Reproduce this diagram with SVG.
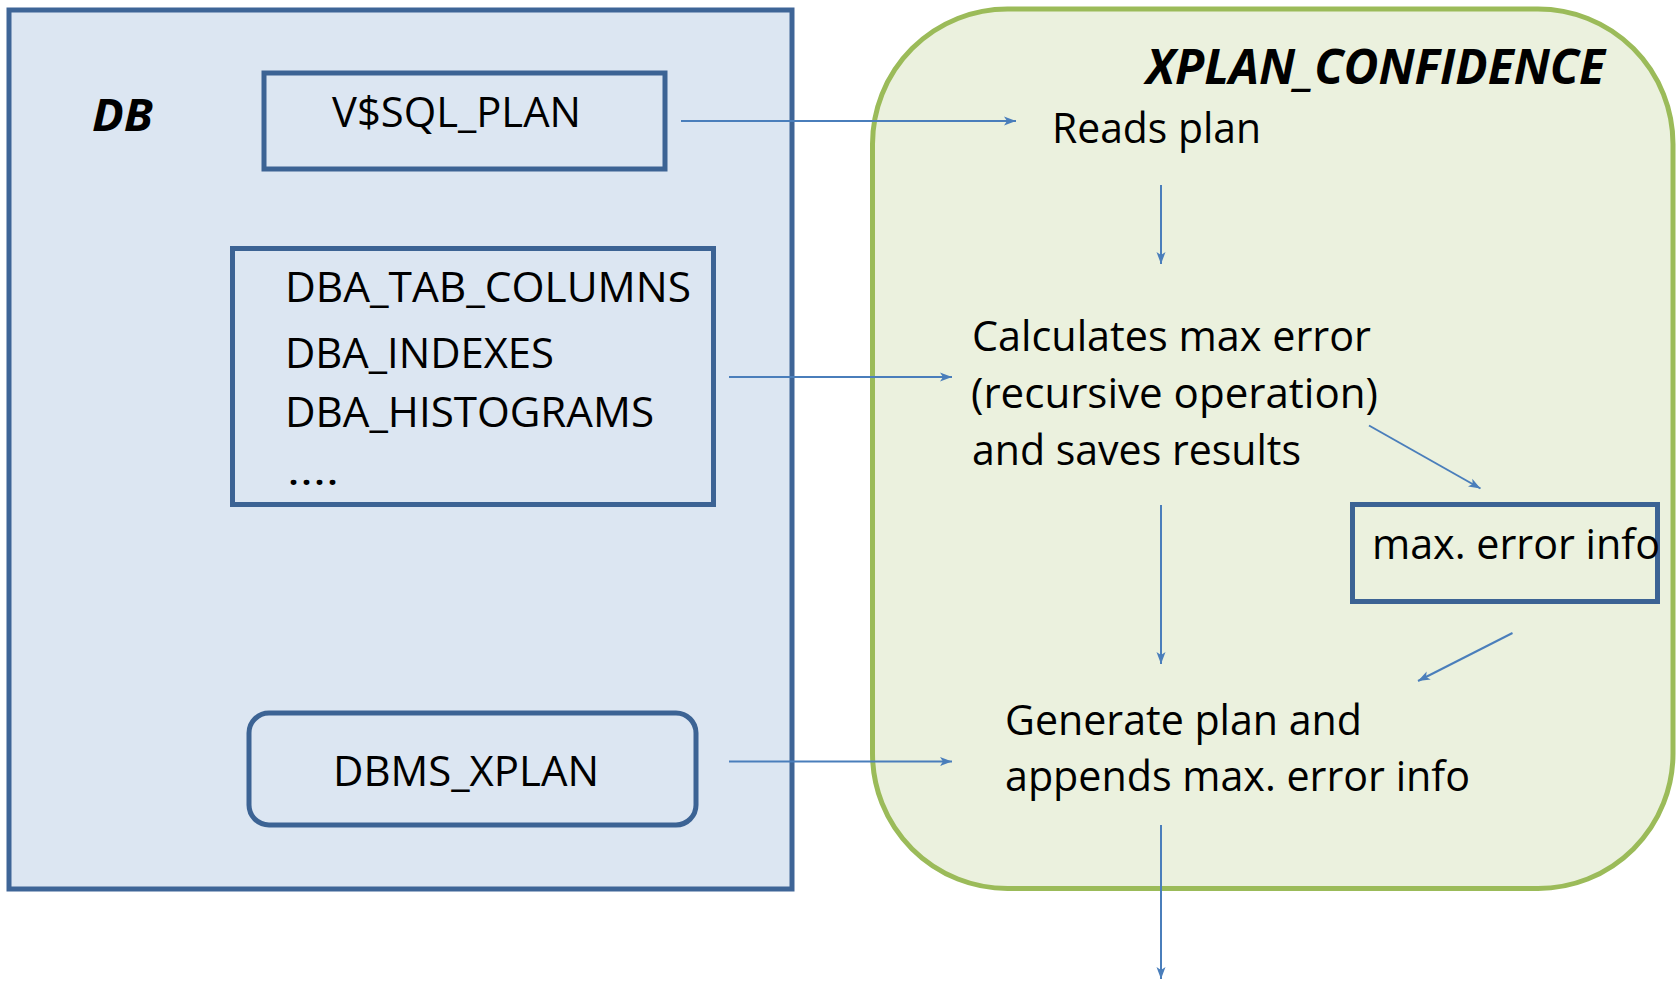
<svg xmlns="http://www.w3.org/2000/svg" width="1680" height="981" viewBox="0 0 1680 981">
  <style>
    .txt { font-family: "Open Sans", "Noto Sans", "Liberation Sans", sans-serif; font-size: 42px; fill: #000; }
    .title { font-family: "Open Sans", "Noto Sans", "Liberation Sans", sans-serif; font-weight: bold; font-style: italic; fill: #000; }
    .box { fill: none; stroke: #3C6394; stroke-width: 5; }
    .conn { stroke: #4A7EBB; stroke-width: 2; fill: none; marker-end: url(#arrow); }
  </style>
  <defs>
    <marker id="arrow" markerUnits="userSpaceOnUse" markerWidth="14" markerHeight="10" refX="12" refY="5" orient="auto">
      <path d="M0,0.5 L12,5 L0,9.5 L3,5 Z" fill="#4A7EBB"/>
    </marker>
  </defs>

  <rect width="1680" height="981" fill="#FFFFFF"/>

  <!-- Database container -->
  <g id="db">
    <rect x="9" y="10" width="783" height="879" fill="#DCE6F2" stroke="#3E6597" stroke-width="5"/>
    <text class="title" x="92" y="131" font-size="44" textLength="61" lengthAdjust="spacingAndGlyphs">DB</text>
  </g>

  <g id="vsql-plan">
    <rect class="box" x="264" y="73" width="401" height="96"/>
    <text class="txt" x="332" y="126.7" textLength="249" lengthAdjust="spacingAndGlyphs">V$SQL_PLAN</text>
  </g>

  <g id="dictionary-views">
    <rect class="box" x="232.5" y="248.5" width="481" height="256"/>
    <text class="txt" x="285" y="301.7" textLength="406" lengthAdjust="spacingAndGlyphs">DBA_TAB_COLUMNS</text>
    <text class="txt" x="285" y="368.3" textLength="269" lengthAdjust="spacingAndGlyphs">DBA_INDEXES</text>
    <text class="txt" x="285" y="426.7" textLength="369" lengthAdjust="spacingAndGlyphs">DBA_HISTOGRAMS</text>
    <text class="txt" x="287" y="485" textLength="52" lengthAdjust="spacingAndGlyphs">....</text>
  </g>

  <g id="dbms-xplan">
    <rect class="box" x="249" y="713" width="447" height="112" rx="20" ry="20"/>
    <text class="txt" x="333" y="785.5" textLength="266" lengthAdjust="spacingAndGlyphs">DBMS_XPLAN</text>
  </g>

  <!-- XPLAN_CONFIDENCE container -->
  <g id="xplan-confidence">
    <rect x="872.5" y="9" width="800.5" height="879.5" rx="135" ry="135" fill="#EBF1DE" stroke="#9BBB59" stroke-width="5"/>
    <text class="title" x="1146" y="83.5" font-size="47.5" textLength="459" lengthAdjust="spacingAndGlyphs">XPLAN_CONFIDENCE</text>
  </g>

  <g id="reads-plan">
    <text class="txt" x="1052" y="142.7" textLength="209" lengthAdjust="spacingAndGlyphs">Reads plan</text>
  </g>

  <g id="calculates">
    <text class="txt" x="972" y="351" textLength="399" lengthAdjust="spacingAndGlyphs">Calculates max error</text>
    <text class="txt" x="971" y="408" textLength="407" lengthAdjust="spacingAndGlyphs">(recursive operation)</text>
    <text class="txt" x="972" y="465" textLength="329" lengthAdjust="spacingAndGlyphs">and saves results</text>
  </g>

  <g id="max-error-info">
    <rect class="box" x="1352.5" y="504.5" width="305" height="97"/>
    <text class="txt" x="1372" y="558.5" textLength="288" lengthAdjust="spacingAndGlyphs">max. error info</text>
  </g>

  <g id="generate-plan">
    <text class="txt" x="1005" y="735" textLength="357" lengthAdjust="spacingAndGlyphs">Generate plan and</text>
    <text class="txt" x="1005" y="790.5" textLength="465" lengthAdjust="spacingAndGlyphs">appends max. error info</text>
  </g>

  <!-- Connectors -->
  <g id="connectors">
    <line class="conn" x1="681" y1="121" x2="1016" y2="121"/>
    <line class="conn" x1="729" y1="377" x2="952" y2="377"/>
    <line class="conn" x1="729" y1="761.5" x2="952" y2="761.5"/>
    <line class="conn" x1="1161" y1="185" x2="1161" y2="264"/>
    <line class="conn" x1="1161" y1="505" x2="1161" y2="664"/>
    <line class="conn" x1="1369" y1="425.5" x2="1480.5" y2="488.5"/>
    <line class="conn" x1="1512.5" y1="633" x2="1418" y2="681"/>
    <line class="conn" x1="1161" y1="825" x2="1161" y2="979"/>
  </g>
</svg>
